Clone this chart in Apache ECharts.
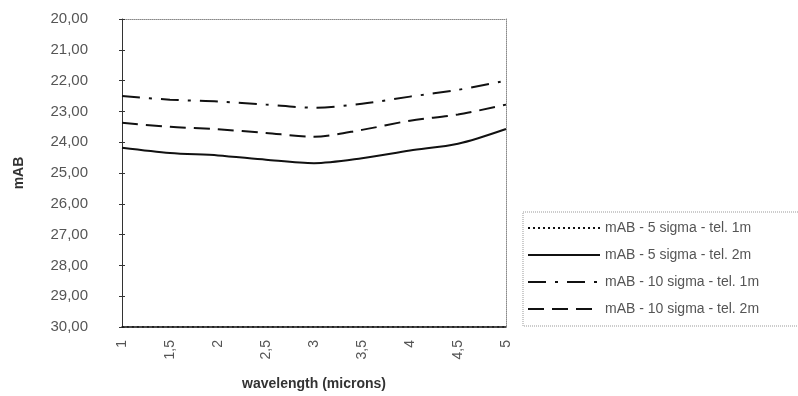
<!DOCTYPE html>
<html>
<head>
<meta charset="utf-8">
<script src="https://cdn.jsdelivr.net/npm/echarts@6/dist/echarts.min.js"></script>
<style>
  html, body { margin: 0; padding: 0; background: #fff; }
  #chart { width: 798px; height: 396px; }
</style>
</head>
<body>
<div id="chart"></div>
<script>
// wavelength in microns
const wavelengths = [1, 1.5, 2, 2.5, 3, 3.5, 4, 4.5, 5]
const seriesNames = [
  'mAB - 5 sigma - tel. 1m',
  'mAB - 5 sigma - tel. 2m',
  'mAB - 10 sigma - tel. 1m',
  'mAB - 10 sigma - tel. 2m'
]
// 5 sigma tel 1m runs off the bottom of the scale (sits on 30)
const sigma5Tel1 = [30, 30, 30, 30, 30, 30, 30, 30, 30]
const sigma5Tel2 = [24.18, 24.35, 24.43, 24.57, 24.68, 24.52, 24.27, 24.05, 23.57]
const sigma10Tel1 = [22.5, 22.62, 22.68, 22.78, 22.88, 22.75, 22.52, 22.3, 22.0]
const sigma10Tel2 = [23.37, 23.5, 23.58, 23.7, 23.82, 23.6, 23.3, 23.1, 22.78]
const yMin = 20, yMax = 30

const font = 'Liberation Sans, Arial, sans-serif'
const pair = arr => wavelengths.map((w, i) => [w, arr[i]])

const mkLine = (name, data, type, width) => ({
  name,
  type: 'line',
  data: pair(data),
  symbol: 'none',
  smooth: 0.3,
  color: '#111',
  xAxisIndex: 0,
  yAxisIndex: 0,
  lineStyle: { color: '#111', width, type }
})

const chart = echarts.init(document.getElementById('chart'))
chart.setOption({
  animation: false,
  backgroundColor: '#fff',
  grid: { left: 122, right: 292, top: 19, bottom: 65 },
  xAxis: [
    {
      type: 'value',
      min: 1, max: 5, interval: 0.5,
      name: 'wavelength (microns)',
      nameLocation: 'middle',
      nameGap: 50,
      nameTextStyle: { fontFamily: font, fontSize: 14, fontWeight: 'bold', color: '#333' },
      axisLine: { lineStyle: { color: '#111', width: 1.5 } },
      axisTick: { show: false },
      splitLine: { show: false },
      axisLabel: {
        rotate: 90,
        margin: 13,
        fontFamily: font, fontSize: 14, color: '#555',
        formatter: v => String(v).replace('.', ',')
      }
    },
    {
      type: 'value', position: 'top', min: 1, max: 5,
      axisLine: { show: true, lineStyle: { color: '#888', type: 'dotted', width: 1 } },
      axisTick: { show: false }, axisLabel: { show: false }, splitLine: { show: false }
    }
  ],
  yAxis: [
    {
      type: 'value',
      inverse: true,
      min: yMin, max: yMax, interval: 1,
      name: 'mAB',
      nameLocation: 'middle',
      nameGap: 96,
      nameTextStyle: { fontFamily: font, fontSize: 14, fontWeight: 'bold', color: '#333' },
      axisLine: { show: true, lineStyle: { color: '#333', width: 1 } },
      axisTick: { show: true, length: 3, lineStyle: { color: '#333' } },
      splitLine: { show: false },
      axisLabel: {
        margin: 34,
        fontFamily: font, fontSize: 15, color: '#555',
        formatter: v => v.toFixed(2).replace('.', ',')
      }
    },
    {
      type: 'value', position: 'right', inverse: true, min: yMin, max: yMax,
      axisLine: { show: true, lineStyle: { color: '#888', type: 'dotted', width: 1 } },
      axisTick: { show: false }, axisLabel: { show: false }, splitLine: { show: false }
    },
    {
      type: 'value', position: 'left', inverse: true, min: yMin, max: yMax, interval: 1,
      axisLine: { show: false },
      axisTick: { show: true, inside: true, length: 3, lineStyle: { color: '#333' } },
      axisLabel: { show: false }, splitLine: { show: false }
    }
  ],
  legend: {
    orient: 'vertical',
    left: 527,
    top: 221,
    itemWidth: 72,
    itemHeight: 12,
    itemGap: 13,
    padding: 0,
    itemStyle: { opacity: 0 },
    textStyle: { fontFamily: font, fontSize: 14, color: '#555' },
    data: seriesNames
  },
  graphic: [
    {
      type: 'rect',
      shape: { x: 523, y: 212, width: 290, height: 114 },
      style: { fill: 'none', stroke: '#999', lineWidth: 1, lineDash: [1, 1] },
      silent: true
    }
  ],
  series: [
    mkLine(seriesNames[0], sigma5Tel1, [2, 3], 1.5),
    mkLine(seriesNames[1], sigma5Tel2, 'solid', 2),
    mkLine(seriesNames[2], sigma10Tel1, [18, 9, 3, 9], 2),
    mkLine(seriesNames[3], sigma10Tel2, [16, 8], 2)
  ]
})
</script>
</body>
</html>
